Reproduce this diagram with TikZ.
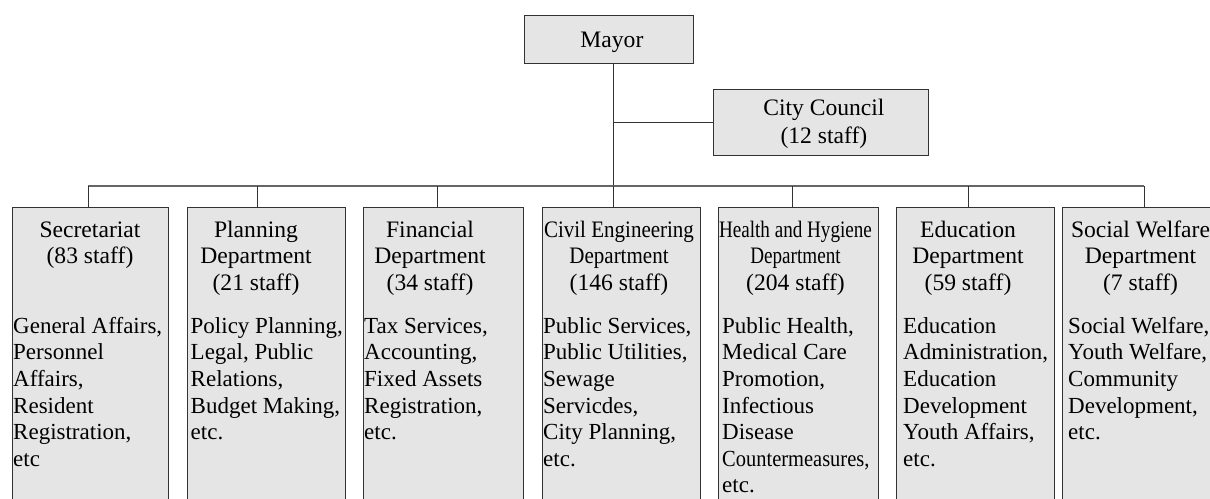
\documentclass[tikz,border=0pt]{standalone}
\usepackage{fontspec}
\setmainfont{Liberation Serif}
\newfontfamily\condA{Liberation Serif}[FakeStretch=0.81]
\newfontfamily\condB{Liberation Serif}[FakeStretch=0.89]
\newcommand{\tfont}{\fontsize{23.6}{26.6}\selectfont}
\newcommand{\bfont}{\fontsize{23}{26.6}\selectfont}
\begin{document}
\begin{tikzpicture}[x=1pt,y=-1pt,
  box/.style={draw=black!80, fill=black!10, line width=0.8pt, rectangle, inner sep=0pt, anchor=north west},
  dept/.style={box, minimum width=#1, minimum height=330pt},
  ttl/.style={anchor=north, align=center, inner sep=0pt, font=\tfont},
  bdy/.style={anchor=north west, align=left, inner sep=0pt, font=\bfont},
  conn/.style={draw=black!80, line width=0.8pt},
  bus/.style={draw=black!60, line width=1.1pt}]
\useasboundingbox (0,0) rectangle (1210,498);
\clip (0,0) rectangle (1210,498);

% top boxes
\node[box, minimum width=169pt, minimum height=48pt, font=\tfont, text depth=0pt] (mayor) at (524,15) {\hspace{6pt}Mayor};
\node[box, minimum width=215pt, minimum height=66pt, font=\tfont, align=center] (council) at (713,89) {\rule{0pt}{20pt}\hspace{6pt}City Council\\[1.4pt]\hspace{6pt}(12 staff)};

% department boxes
\node[dept=156pt] (s1) at (12,207) {};
\node[dept=158pt] (s2) at (187,207) {};
\node[dept=160pt] (s3) at (363,207) {};
\node[dept=158pt] (s4) at (542,207) {};
\node[dept=160pt] (s5) at (718,207) {};
\node[dept=158pt] (s6) at (896,207) {};
\node[dept=158pt] (s7) at (1062,207) {};

% titles
\node[ttl] (t1) at (90,218.4) {\strut Secretariat\\(83 staff)};
\node[ttl] (t2) at (256,218.4) {\strut Planning\\Department\\(21 staff)};
\node[ttl] (t3) at (430,218.4) {\strut Financial\\Department\\(34 staff)};
\node[ttl] (t4) at (619,218.4) {\strut{\condB Civil Engineering}\\{\condB Department}\\(146 staff)};
\node[ttl] (t5) at (795.5,218.4) {\strut{\condA Health and Hygiene}\\{\condA Department}\\(204 staff)};
\node[ttl] (t6) at (968,218.4) {\strut Education\\Department\\(59 staff)};
\node[ttl] (t7) at (1140.5,218.4) {\strut Social Welfare\\Department\\(7 staff)};

% bodies
\node[bdy] (b1) at (13,314.4) {\strut General Affairs,\\Personnel\\Affairs,\\Resident\\Registration,\\etc};
\node[bdy] (b2) at (190.5,314.4) {\strut Policy Planning,\\Legal, Public\\Relations,\\Budget Making,\\etc.};
\node[bdy] (b3) at (364,314.4) {\strut Tax Services,\\Accounting,\\Fixed Assets\\Registration,\\etc.};
\node[bdy] (b4) at (543,314.4) {\strut Public Services,\\Public Utilities,\\Sewage\\Servicdes,\\City Planning,\\etc.};
\node[bdy] (b5) at (722,314.4) {\strut Public Health,\\Medical Care\\Promotion,\\Infectious\\Disease\\{\condB Countermeasures,}\\etc.};
\node[bdy] (b6) at (903,314.4) {\strut Education\\Administration,\\Education\\Development\\Youth Affairs,\\etc.};
\node[bdy] (b7) at (1068,314.4) {\strut Social Welfare,\\Youth Welfare,\\Community\\Development,\\etc.};

% connectors
\coordinate (hub) at (613,186);
\coordinate (busL) at (88,186);
\coordinate (busR) at (1144,186);
\draw[conn] (mayor.south -| hub) -- (hub);
\draw[conn] (hub |- council.west) -- (council.west);
\draw[bus] (busL) -- (busR);
\coordinate (d1) at (88,186);
\coordinate (d2) at (257,186);
\coordinate (d3) at (437,186);
\coordinate (d4) at (613,186);
\coordinate (d5) at (792,186);
\coordinate (d6) at (968,186);
\coordinate (d7) at (1144,186);
\foreach \i in {1,...,7}{
  \draw[conn] (d\i) -- (d\i |- s\i.north);
}
\end{tikzpicture}
\end{document}
